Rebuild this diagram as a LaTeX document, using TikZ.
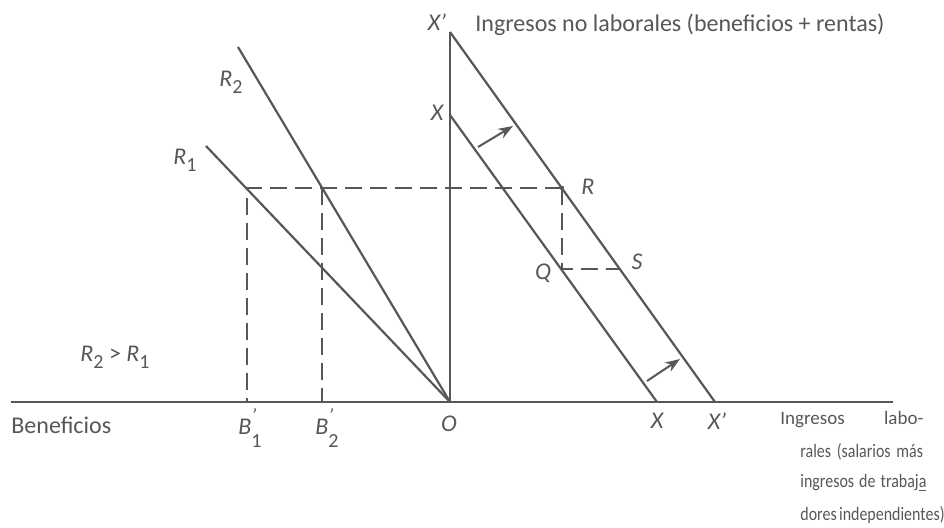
\documentclass[tikz,border=0pt]{standalone}
\usepackage{fontspec}
\setmainfont{Carlito}
\usepackage{tikz}
\usetikzlibrary{arrows.meta,positioning,calc}
\definecolor{ink}{HTML}{575757}
% subscript and prime as printed in the figure
\newcommand{\lo}[1]{\raisebox{-0.6ex}{\normalsize\upshape #1}}
\newcommand{\bsub}[1]{\textit{B}\rlap{\raisebox{1.0ex}{\normalsize\textit{'}}}\raisebox{-1.1ex}{\normalsize\upshape #1}}
% narrow, spread-out caption line
\newcommand{\capline}[3][0.84]{\scalebox{#1}[1]{\makebox[#2][s]{#3}}}

\begin{document}
\begin{tikzpicture}[x=0.5pt, y=-0.5pt, font=\large, text=ink,
  axis/.style={draw=ink, line width=1pt},
  budget/.style={draw=ink, line width=1.1pt},
  guide/.style={draw=ink, line width=1pt, dash pattern=on 8.5pt off 4pt},
  shiftarr/.style={-{Stealth[length=2.6mm,width=1.9mm]}, draw=ink, line width=1pt},
  lab/.style={inner sep=0pt, font=\large\itshape},
  txt/.style={inner sep=0pt, font=\large},
  note/.style={inner sep=0pt, anchor=west, font=\fontsize{9.5}{12}\selectfont}]
\useasboundingbox (0,0) rectangle (944,527);

% points
\coordinate (axL) at (11,402);
\coordinate (axR) at (893,402);
\coordinate (O) at (450,402);
\coordinate (Xtop) at (450,32);
\coordinate (Xmid) at (450,115);
\coordinate (Xpb) at (715,402);
\coordinate (Xb) at (657,402);
\coordinate (R) at (562,188);
\coordinate (Q) at (562,269);
\coordinate (S) at (620,269);
\coordinate (B1t) at (247,188);
\coordinate (B2t) at (322,188);
\coordinate (B1b) at (247,402);
\coordinate (B2b) at (322,402);
\coordinate (R1e) at (206,146);
\coordinate (R2e) at (238,47);
\coordinate (a1s) at (478,147);
\coordinate (a1e) at (513,126);
\coordinate (a2s) at (647,381);
\coordinate (a2e) at (680,359);

% axes
\draw[axis] (axL) -- (axR);
\draw[axis] (O) -- (Xtop);

% income lines and rays
\draw[budget] (Xtop) -- (Xpb);
\draw[budget] (Xmid) -- (Xb);
\draw[budget] (R1e) -- (O);
\draw[budget] (R2e) -- (O);

% dashed guides
\draw[guide] (R) -- (B1t) -- (B1b);
\draw[guide] (B2t) -- (B2b);
\draw[guide] (R) -- (Q) -- (S);
\fill[ink] (R) circle (2.2);

\draw[shiftarr] (a1s) -- (a1e);
\draw[shiftarr] (a2s) -- (a2e);

% labels
\node[lab] (lXtop) at (437,22) {X'};
\node[txt, anchor=west] (ttop) at (475,25) {Ingresos no laborales (beneficios + rentas)};
\node[lab] (lXmid) at (437,113) {X};
\node[lab] (lR2) at (231,82) {R\lo{2}};
\node[lab] (lR1) at (185,160) {R\lo{1}};
\node[lab] (lR) at (588,187) {R};
\node[lab] (lQ) at (543,273) {Q};
\node[lab] (lS) at (637,262) {S};
\node[lab] (lRR) at (115,357) {R\lo{2} \upshape> \itshape R\lo{1}};
\node[txt, anchor=west] (lben) at (11,425) {Beneficios};
\node[lab] (lB1) at (250,428) {\bsub{1}};
\node[lab] (lB2) at (327,428) {\bsub{2}};
\node[lab] (lO) at (449,424) {O};
\node[lab] (lXb) at (657,421) {X};
\node[lab] (lXpb) at (717,421) {X'};
% horizontal axis caption, line by line
\node[note] (bot1) at (780,420) {\capline[1]{71.5pt}{Ingresos labo-}};
\node[note] (bot2) at (800,452) {\capline{73pt}{rales (salarios más}};
\node[note] (bot3) at (800,483) {\capline{75pt}{ingresos de trabaj\underline{a}}};
\node[note] (bot4) at (800,515) {\capline{81.5pt}{dores independientes)}};
\end{tikzpicture}
\end{document}
